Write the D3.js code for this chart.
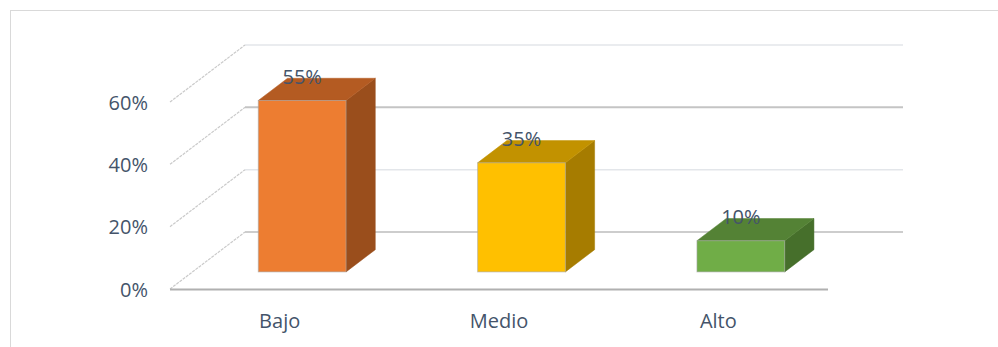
<!DOCTYPE html>
<html>
<head>
<meta charset="utf-8">
<script src="https://cdn.jsdelivr.net/npm/d3@7"></script>
<style>
html,body{margin:0;padding:0;background:#fff;}
svg{display:block;}
text{font-family:"Open Sans",sans-serif;fill:#44546A;}
</style>
</head>
<body>
<svg id="chart" width="998" height="347"></svg>
<script>
const categories = ["Bajo", "Medio", "Alto"];
const values = [0.55, 0.35, 0.10];
const tickValues = [0, 0.2, 0.4, 0.6];
const tickLabels = ["0%", "20%", "40%", "60%"];
const valueLabels = ["55%", "35%", "10%"];
const frontColors = ["#ED7D31", "#FFC000", "#70AD47"];
const topColors = ["#B45B22", "#C29200", "#548235"];
const sideColors = ["#9A4E1C", "#A67C00", "#466F2B"];

const svg = d3.select("#chart");

// 3D projection parameters (depth offset of the back wall)
const depthX = 75, depthY = 57;
const barZ0 = 0.3, barZ1 = 0.69;

const x = d3.scaleBand().domain(categories).range([170, 828])
  .paddingInner(0.6).paddingOuter(0.3);
const y = d3.scaleLinear().domain([0, 0.6]).range([289, 102]);

const px = (xv, z) => xv + z * depthX;
const py = (v, z) => y(v) - z * depthY;

// chart frame
svg.append("rect").attr("x", 10.5).attr("y", 10.5).attr("width", 1100).attr("height", 500)
  .attr("fill", "none").attr("stroke", "#D9D9D9").attr("stroke-width", 1);

const [x0, x1] = x.range();

// back wall gridlines
const gridColors = ["#BDBDBD", "#E3E6EA", "#C4C4C4", "#E3E6EA"];
const gridWidths = [1.5, 1.5, 2, 1.5];
tickValues.forEach((t, i) => {
  svg.append("line")
    .attr("x1", px(x0, 1)).attr("y1", py(t, 1))
    .attr("x2", px(x1, 1)).attr("y2", py(t, 1))
    .attr("stroke", gridColors[i]).attr("stroke-width", gridWidths[i]);
  // left wall diagonal
  svg.append("line")
    .attr("x1", px(x0, 0)).attr("y1", py(t, 0))
    .attr("x2", px(x0, 1)).attr("y2", py(t, 1))
    .attr("stroke", "#CACACA").attr("stroke-width", 1.2)
    .attr("stroke-dasharray", "3,1");
});

// floor front edge
svg.append("line")
  .attr("x1", px(x0, 0)).attr("y1", py(0, 0) + 0.5)
  .attr("x2", px(x1, 0)).attr("y2", py(0, 0) + 0.5)
  .attr("stroke", "#B0B0B0").attr("stroke-width", 2);

// bars
const bw = x.bandwidth();
categories.forEach((c, i) => {
  const v = values[i];
  const xl = x(c), xr = x(c) + bw;
  const g = svg.append("g");
  // side face
  g.append("path")
    .attr("d", d3.line()([
      [px(xr, barZ0), py(0, barZ0)],
      [px(xr, barZ1), py(0, barZ1)],
      [px(xr, barZ1), py(v, barZ1)],
      [px(xr, barZ0), py(v, barZ0)]
    ]) + "Z")
    .attr("fill", sideColors[i]).attr("stroke", sideColors[i]).attr("stroke-width", 0.5);
  // top face
  g.append("path")
    .attr("d", d3.line()([
      [px(xl, barZ0), py(v, barZ0)],
      [px(xr, barZ0), py(v, barZ0)],
      [px(xr, barZ1), py(v, barZ1)],
      [px(xl, barZ1), py(v, barZ1)]
    ]) + "Z")
    .attr("fill", topColors[i]).attr("stroke", topColors[i]).attr("stroke-width", 0.5);
  // front face
  g.append("rect")
    .attr("x", px(xl, barZ0)).attr("y", py(v, barZ0))
    .attr("width", bw).attr("height", py(0, barZ0) - py(v, barZ0))
    .attr("fill", frontColors[i]).attr("stroke", "#A6A6A6").attr("stroke-opacity", 0.6).attr("stroke-width", 1);
  // value label
  svg.append("text")
    .attr("x", px(xl + bw / 2, barZ0))
    .attr("y", py(v, barZ1) - 2)
    .attr("text-anchor", "middle").attr("dominant-baseline", "central")
    .attr("font-size", 20)
    .text(valueLabels[i]);
});

// y tick labels
tickValues.forEach((t, i) => {
  svg.append("text")
    .attr("x", 148).attr("y", py(t, 0))
    .attr("text-anchor", "end").attr("dominant-baseline", "central")
    .attr("font-size", 20)
    .text(tickLabels[i]);
});

// category labels
categories.forEach(c => {
  svg.append("text")
    .attr("x", x(c) + bw / 2).attr("y", 320)
    .attr("text-anchor", "middle").attr("dominant-baseline", "central")
    .attr("font-size", 20)
    .text(c);
});
</script>
</body>
</html>
